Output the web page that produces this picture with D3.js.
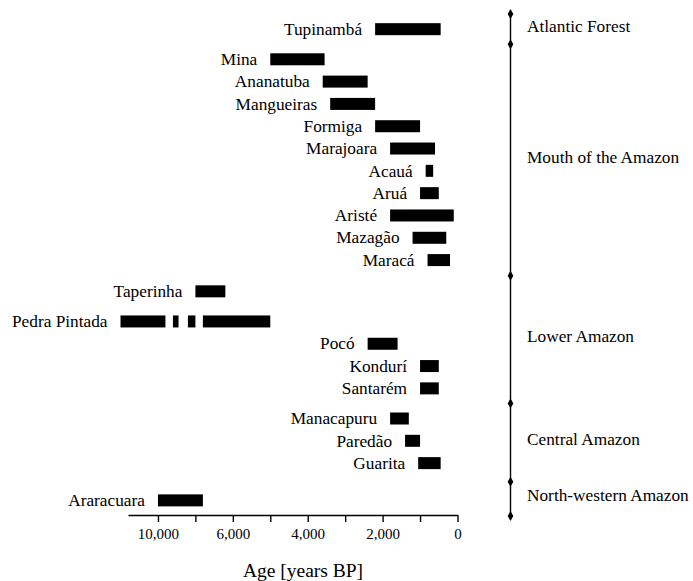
<!DOCTYPE html>
<html>
<head>
<meta charset="utf-8">
<script src="https://cdn.jsdelivr.net/npm/d3@7"></script>
<style>
  body { margin: 0; background: #fff; }
  svg text { font-family: "Liberation Serif", "Times New Roman", Times, "DejaVu Serif", serif; fill: #000; }
</style>
</head>
<body>
<svg id="chart"></svg>
<script>
// sites top to bottom, with their region and dated spans [older, younger] in years BP
const sites = ["Tupinambá", "Mina", "Ananatuba", "Mangueiras", "Formiga", "Marajoara", "Acauá", "Aruá",
  "Aristé", "Mazagão", "Maracá", "Taperinha", "Pedra Pintada", "Pocó", "Kondurí", "Santarém",
  "Manacapuru", "Paredão", "Guarita", "Araracuara"];
const siteRegion = ["Atlantic Forest", "Mouth of the Amazon", "Mouth of the Amazon", "Mouth of the Amazon",
  "Mouth of the Amazon", "Mouth of the Amazon", "Mouth of the Amazon", "Mouth of the Amazon",
  "Mouth of the Amazon", "Mouth of the Amazon", "Mouth of the Amazon", "Lower Amazon", "Lower Amazon",
  "Lower Amazon", "Lower Amazon", "Lower Amazon", "Central Amazon", "Central Amazon", "Central Amazon",
  "North-western Amazon"];
const spans = [
  [[2200, 450]],
  [[5000, 3550]],
  [[3600, 2400]],
  [[3400, 2200]],
  [[2200, 1000]],
  [[1800, 600]],
  [[850, 650]],
  [[1000, 500]],
  [[1800, 100]],
  [[1200, 300]],
  [[800, 200]],
  [[7000, 6200]],
  [[9000, 7800], [7600, 7450], [7200, 7000], [6800, 5000]],
  [[2400, 1600]],
  [[1000, 500]],
  [[1000, 500]],
  [[1800, 1300]],
  [[1400, 1000]],
  [[1050, 450]],
  [[8000, 6800]]
];
const regions = ["Atlantic Forest", "Mouth of the Amazon", "Lower Amazon", "Central Amazon", "North-western Amazon"];
const tickValues = [0, 1000, 2000, 3000, 4000, 5000, 6000, 7000, 8000];
const tickLabels = ["0", "", "2,000", "", "4,000", "", "6,000", "", "10,000"];

// extra vertical space (in rows) before some sites
const extraGap = {"Mina": 0.35, "Taperinha": 0.4, "Pedra Pintada": 0.35, "Manacapuru": 0.35, "Araracuara": 0.67};

const width = 693, height = 581;
const serif = '"Liberation Serif", "Times New Roman", Times, "DejaVu Serif", serif';
const svg = d3.select("#chart").attr("width", width).attr("height", height)
  .attr("font-family", serif);

let acc = 0;
const rows = sites.map((s, i) => {
  acc += (extraGap[s] || 0);
  return {site: s, region: siteRegion[i], spans: spans[i], slot: i + acc};
});

const x = d3.scaleLinear().domain([0, 8800]).range([457.5, 128]);
const y = d3.scaleLinear()
  .domain([-0.68, d3.max(rows, d => d.slot) + 0.7])
  .range([14, 516]);

// bars
svg.append("g").selectAll("g")
  .data(rows)
  .enter().append("g")
  .each(function(d) {
    d3.select(this).selectAll("rect")
      .data(d.spans)
      .enter().append("rect")
      .attr("x", s => x(s[0]))
      .attr("width", s => x(s[1]) - x(s[0]))
      .attr("y", y(d.slot) - 6)
      .attr("height", 12)
      .attr("fill", "#000");
  });

// site labels
svg.append("g").selectAll("text")
  .data(rows)
  .enter().append("text")
  .attr("x", d => x(d.spans[0][0]) - 13)
  .attr("y", d => y(d.slot))
  .attr("dy", "0.33em")
  .attr("text-anchor", "end")
  .style("font-family", serif)
  .style("font-size", "17.3px")
  .text(d => d.site);

// x axis
const axis = svg.append("g")
  .attr("transform", "translate(0,515)")
  .call(d3.axisBottom(x)
    .tickValues(tickValues)
    .tickSize(7)
    .tickSizeOuter(0)
    .tickPadding(6)
    .tickFormat((d, i) => tickLabels[i]));
axis.attr("font-family", serif);
axis.selectAll("path, line").attr("stroke", "#000").attr("stroke-width", 1.4);
axis.selectAll("text").style("font-size", "15px").style("font-family", serif);

svg.append("text")
  .attr("x", 303)
  .attr("y", 577)
  .attr("text-anchor", "middle")
  .style("font-family", serif)
  .style("font-size", "19.5px")
  .text("Age [years BP]");

// region brackets on the right
const bounds = regions.map(r => {
  const rs = rows.filter(d => d.region === r);
  return {region: r, first: rs[0].slot, last: rs[rs.length - 1].slot};
});
const cuts = [bounds[0].first - 0.68];
for (let i = 1; i < bounds.length; i++) {
  cuts.push((bounds[i - 1].last + bounds[i].first) / 2);
}
cuts.push(bounds[bounds.length - 1].last + 0.7);

const bx = 510.5;
svg.append("line")
  .attr("x1", bx).attr("x2", bx)
  .attr("y1", y(cuts[0])).attr("y2", y(cuts[cuts.length - 1]))
  .attr("stroke", "#000")
  .attr("stroke-width", 1.4);

svg.append("g").selectAll("path")
  .data(cuts)
  .enter().append("path")
  .attr("d", d3.symbol().type(d3.symbolDiamond).size(28))
  .attr("transform", c => "translate(" + bx + "," + y(c) + ")")
  .attr("fill", "#000");

svg.append("g").selectAll("text")
  .data(bounds)
  .enter().append("text")
  .attr("x", 527)
  .attr("y", (d, i) => (y(cuts[i]) + y(cuts[i + 1])) / 2)
  .attr("dy", "0.15em")
  .style("font-family", serif)
  .style("font-size", "17.3px")
  .text(d => d.region);
</script>
</body>
</html>
